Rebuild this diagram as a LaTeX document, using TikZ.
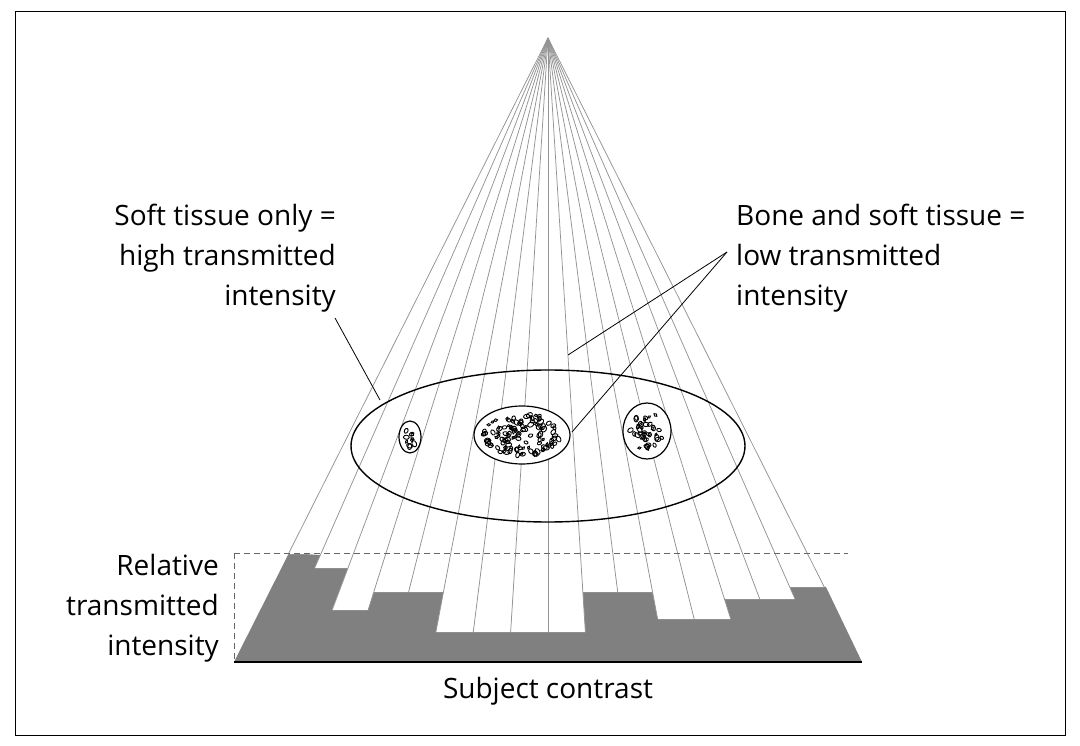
\documentclass[tikz,border=0pt]{standalone}
\usepackage{fontspec}
\setmainfont{Open Sans}
\begin{document}
\begin{tikzpicture}[x=1pt,y=-1pt,
  ray/.style={gray!85,line width=0.75pt},
  lbl/.style={font=\fontsize{28}{40}\selectfont,align=#1,inner sep=0pt},
  ptr/.style={black,line width=0.8pt},
  blob/.style={line width=0.9pt}]
\useasboundingbox (0,0) rectangle (1080,746);
\draw[line width=1pt] (15,12) rectangle (1065,735);
\coordinate (apex) at (548,38);
% gray base
\fill[black!50] (289,553) -- (234,662) -- (862,662) -- (826,587) -- cycle;
\def\bots{{554,568,610,592,592,632,632,632,632,592,592,619,619,599,599,587}}
\foreach \i in {0,...,15}{
  \pgfmathsetmacro\yb{\bots[\i]}
  \pgfmathsetmacro\xa{234+39.25*\i}
  \pgfmathsetmacro\xb{234+39.25*(\i+1)}
  \pgfmathsetmacro\ta{(\yb-38)/624}
  \pgfmathsetmacro\tb{(520-38)/624}
  \fill[white] ({548+(\xa-548)*\tb},520) -- ({548+(\xb-548)*\tb},520) -- ({548+(\xb-548)*\ta},\yb) -- ({548+(\xa-548)*\ta},\yb) -- cycle;
}
\foreach \k in {0,...,16}{
  \pgfmathsetmacro\ya{max(\bots[max(\k-1,0)],\bots[min(\k,15)])}
  \pgfmathsetmacro\xk{234+39.25*\k}
  \pgfmathsetmacro\t{(\ya-38)/624}
  \coordinate (r\k) at ({548+(\xk-548)*\t},\ya);
  \draw[ray] (apex) -- (r\k);
}
\draw[black!60,dash pattern=on 6pt off 4pt,line width=0.9pt] (234,553) -- (848,553);
\draw[black!60,dash pattern=on 6pt off 4pt,line width=0.9pt] (234,553) -- (234,662);
\draw[line width=2pt] (234,662) -- (862,662);
% ellipses
\draw[line width=1.4pt] (548,446) ellipse [x radius=197,y radius=76];
\draw[line width=1.2pt,fill=white] (410,437) ellipse [x radius=11,y radius=16];
\draw[line width=1.2pt,fill=white] (522,435) ellipse [x radius=48,y radius=29];
\draw[line width=1.2pt,fill=white] (647,431) ellipse [x radius=24,y radius=28];
\pgfmathsetseed{7}
\foreach \cx/\cy/\rx/\ry/\n in {410/437/6/11/10, 522/435/39/21/120, 647/431/17/19/40}{
  \foreach \j in {1,...,\n}{
    \pgfmathsetmacro\ang{360*rnd}
    \pgfmathsetmacro\rr{sqrt(rnd)}
    \pgfmathsetmacro\rot{180*rnd}
    \pgfmathsetmacro\sa{1.5+1.8*rnd}
    \draw[blob] ({\cx+\rx*\rr*cos(\ang)},{\cy+\ry*\rr*sin(\ang)}) ellipse [x radius=\sa,y radius=\sa*0.7,rotate=\rot];
  }
}
% labels
\node[lbl=right,anchor=north east] (soft) at (336,204) {Soft tissue only =\\high transmitted\\intensity};
\node[lbl=left,anchor=north west] (bone) at (736,204) {Bone and soft tissue =\\low transmitted\\intensity};
\node[lbl=right,anchor=north east] (rel) at (219,554) {Relative\\transmitted\\intensity};
\node[lbl=center] (subj) at (548,691) {Subject contrast};
\coordinate (p1) at (335,318);
\coordinate (q1) at (380,400);
\coordinate (p2) at (727,252);
\coordinate (q2) at (568,355);
\coordinate (q3) at (572,432);
\draw[ptr] (p1) -- (q1);
\draw[ptr] (p2) -- (q2);
\draw[ptr] (p2) -- (q3);
\end{tikzpicture}
\end{document}
